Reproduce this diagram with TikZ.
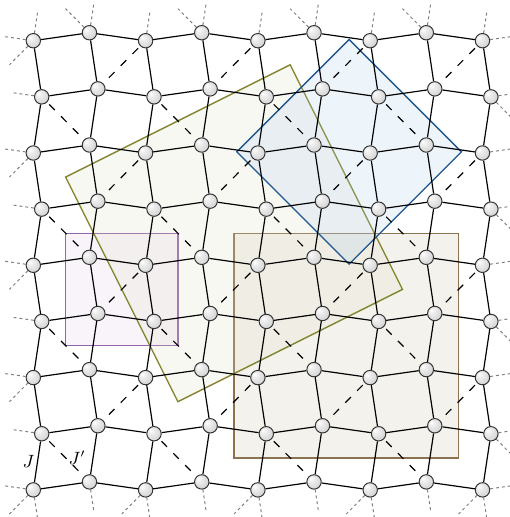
\documentclass[tikz,border=0pt]{standalone}
\usepackage{tikz}
\usepackage{xcolor}
\usetikzlibrary{calc, backgrounds}
\definecolor{purpleline}{RGB}{150,100,170}
\definecolor{purplefill}{RGB}{220,200,230}
\definecolor{oliveline}{RGB}{135,135,50}
\definecolor{olivefill}{RGB}{222,222,195}
\definecolor{blueline}{RGB}{30,85,140}
\definecolor{bluefill}{RGB}{165,200,232}
\definecolor{brownline}{RGB}{140,115,80}
\definecolor{brownfill}{RGB}{200,188,162}
\pgfdeclareradialshading{sitegray}{\pgfpoint{-12bp}{12bp}}{%
    color(0bp)=(white); color(8bp)=(gray!12); color(38bp)=(gray!40); color(64bp)=(gray!75)}
\tikzstyle{site}   = [circle, inner sep=0pt, minimum size=7.3pt, draw=black!80,
                      line width=0.5pt, shading=sitegray]
\tikzstyle{bond}   = [line width=0.6pt]
\tikzstyle{dimer}  = [line width=0.6pt, dash pattern=on 4pt off 4.5pt, dash phase=7pt]
\tikzstyle{stub}   = [gray, line width=0.5pt, dash pattern=on 1.5pt off 1.5pt]
\tikzstyle{region} = [line width=0.7pt, fill opacity=0.2]

\begin{document}
\begin{tikzpicture}[every node/.style={font=\small}]
    \useasboundingbox (-0.668,-8.554) rectangle (8.415,0.654);

    % lattice points, 0 and 10 lie outside
    \foreach \i in {0,...,10}{
        \foreach \j in {0,...,10}{
            \pgfmathsetmacro{\px}{\i-1-0.075*(2*mod(\j,2)-1)}
            \pgfmathsetmacro{\py}{-(\j-1)-0.071*(2*mod(\i,2)-1)}
            \coordinate (p-\i-\j) at (\px,\py);
        }
    }
    \foreach \i in {1,...,9}{
        \foreach \j in {1,...,9}{
            \node[site] (n-\i-\j) at (p-\i-\j) {};
        }
    }

    \path (n-1-8) -- node[left, xshift=2pt] (lJ) {$J$} (n-1-9);
    \path (n-1-8) -- node[right, xshift=-2pt] (lJp) {$J'$} (n-2-9);

    \begin{scope}[on background layer]
        \draw[region, draw=brownline, fill=brownfill] (3.5,-3.5) rectangle (7.5,-7.5);
        \draw[region, draw=purpleline, fill=purplefill] (0.5,-3.5) rectangle (2.5,-5.5);
        \draw[region, draw=oliveline, fill=olivefill] (0.5,-2.5) -- (4.5,-0.5) -- (6.5,-4.5) -- (2.5,-6.5) -- cycle;
        \draw[region, draw=blueline, fill=bluefill] (5.55,-0.05) -- (7.55,-2.05) -- (5.55,-4.05) -- (3.55,-2.05) -- cycle;

        % nearest neighbour bonds
        \foreach \i [evaluate=\i as \ii using int(\i+1)] in {1,...,8}{
            \foreach \j in {1,...,9}{
                \draw[bond] (n-\i-\j) -- (n-\ii-\j);
                \draw[bond] (n-\j-\i) -- (n-\j-\ii);
            }
        }

        % dimers
        \foreach \a [evaluate=\a as \aa using int(\a+1)] in {2,4,6,8}{
            \foreach \b [evaluate=\b as \bb using int(\b+1)] in {1,3,5,7}{
                \draw[dimer] (n-\aa-\b) -- (n-\a-\bb);
            }
        }
        \foreach \a [evaluate=\a as \aa using int(\a+1)] in {1,3,5,7}{
            \foreach \b [evaluate=\b as \bb using int(\b+1)] in {2,4,6,8}{
                \draw[dimer] (n-\a-\b) -- (n-\aa-\bb);
            }
        }

        % open ends
        \foreach \k in {1,...,9}{
            \draw[stub] (n-1-\k) -- ($(p-1-\k)!0.5!(p-0-\k)$);
            \draw[stub] (n-9-\k) -- ($(p-9-\k)!0.5!(p-10-\k)$);
            \draw[stub] (n-\k-1) -- ($(p-\k-1)!0.5!(p-\k-0)$);
            \draw[stub] (n-\k-9) -- ($(p-\k-9)!0.5!(p-\k-10)$);
        }
        \foreach \b [evaluate=\b as \bb using int(\b+1)] in {1,3,5,7}{
            \draw[stub] (n-1-\b) -- ($(p-1-\b)!0.5!(p-0-\bb)$);
        }
        \foreach \a [evaluate=\a as \aa using int(\a+1)] in {0,2,4,6,8}{
            \draw[stub] (n-\aa-9) -- ($(p-\aa-9)!0.5!(p-\a-10)$);
        }
        \foreach \b [evaluate=\b as \bb using int(\b+1)] in {2,4,6,8}{
            \draw[stub] (n-9-\b) -- ($(p-9-\b)!0.5!(p-10-\bb)$);
        }
        \foreach \a [evaluate=\a as \aa using int(\a+1)] in {1,3,5,7}{
            \draw[stub] (n-\aa-1) -- ($(p-\aa-1)!0.5!(p-\a-0)$);
        }
    \end{scope}
\end{tikzpicture}
\end{document}
